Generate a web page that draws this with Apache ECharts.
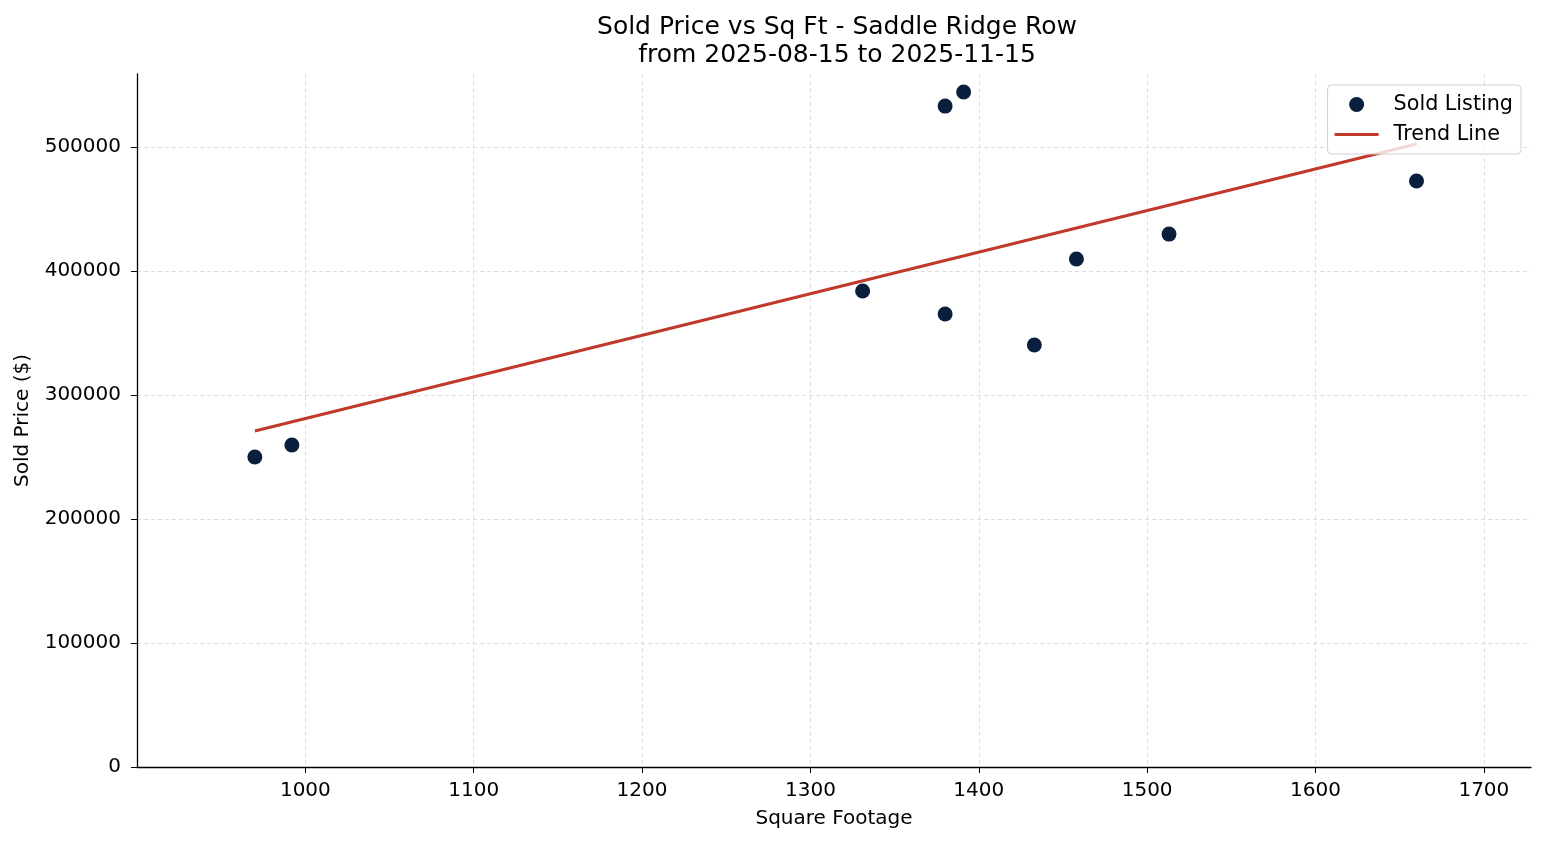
<!DOCTYPE html>
<html>
<head>
<meta charset="utf-8">
<script src="https://cdn.jsdelivr.net/npm/echarts@6/dist/echarts.min.js"></script>
<style>
html,body{margin:0;padding:0;background:#fff;}
#chart{width:1547px;height:845px;}
</style>
</head>
<body>
<div id="chart"></div>
<script>
const titleLines = ["Sold Price vs Sq Ft - Saddle Ridge Row", "from 2025-08-15 to 2025-11-15"];
const sqft = [970, 992, 1331, 1380, 1391, 1380, 1433, 1458, 1513, 1660];
const soldPrice = [250000, 259700, 383900, 533000, 544400, 365300, 340300, 409700, 429800, 472600];
const trendSqft = [970, 1660];
const trendPrice = [271000, 502400];

const font = "DejaVu Sans";
const plain = v => String(Math.round(v));
const chart = echarts.init(document.getElementById('chart'));
chart.setOption({
  animation: false,
  backgroundColor: '#fff',
  textStyle: { fontFamily: font },
  title: {
    text: titleLines.join('\n'),
    left: 832, top: 8, textAlign: 'center',
    textStyle: { fontFamily: font, fontSize: 25, fontWeight: 'normal', color: '#000', lineHeight: 28 }
  },
  legend: {
    right: 26, top: 85,
    orient: 'vertical',
    itemGap: 9,
    backgroundColor: 'rgba(255,255,255,0.8)',
    borderColor: '#d0d0d0', borderWidth: 1, borderRadius: 4,
    padding: [9, 8, 9, 7],
    textStyle: { fontFamily: font, fontSize: 20.7, color: '#000', padding: [0, 0, 0, 10] },
    itemWidth: 44, itemHeight: 15,
    data: [
      { name: 'Sold Listing', icon: 'circle' },
      { name: 'Trend Line', icon: 'path://M0,0 L44,0 L44,3 L0,3 Z' }
    ]
  },
  grid: { left: 137, right: 16, top: 74, bottom: 78, containLabel: false },
  xAxis: {
    type: 'value', min: 900, max: 1728, interval: 100,
    name: 'Square Footage', nameLocation: 'middle', nameGap: 42,
    nameTextStyle: { fontFamily: font, fontSize: 20, color: '#000' },
    axisLine: { show: true, onZero: false, lineStyle: { color: '#000', width: 1.3 } },
    axisTick: { show: true, length: 6, lineStyle: { color: '#000' } },
    axisLabel: { fontFamily: font, fontSize: 20, color: '#000', margin: 14, showMinLabel: false, showMaxLabel: false, formatter: plain },
    splitLine: { show: true, showMinLine: false, showMaxLine: false, lineStyle: { color: '#d6d6d6', type: [4, 3], width: 0.8 } }
  },
  yAxis: {
    type: 'value', min: 0, max: 558900, interval: 100000,
    name: 'Sold Price ($)', nameLocation: 'middle', nameGap: 104, nameRotate: 90,
    nameTextStyle: { fontFamily: font, fontSize: 20, color: '#000' },
    axisLine: { show: true, lineStyle: { color: '#000', width: 1.3 } },
    axisTick: { show: true, length: 6, lineStyle: { color: '#000' } },
    axisLabel: { fontFamily: font, fontSize: 20, color: '#000', margin: 16, showMaxLabel: false, formatter: plain },
    splitLine: { show: true, showMinLine: false, showMaxLine: false, lineStyle: { color: '#d6d6d6', type: [4, 3], width: 0.8 } }
  },
  series: [
    {
      name: 'Sold Listing', type: 'scatter', symbolSize: 15,
      itemStyle: { color: '#0a1f3d', opacity: 1 },
      data: sqft.map((x, i) => [x, soldPrice[i]]),
      z: 3
    },
    {
      name: 'Trend Line', type: 'line', symbol: 'none',
      lineStyle: { color: '#c0392b', width: 3 },
      itemStyle: { color: '#c0392b' },
      data: trendSqft.map((x, i) => [x, trendPrice[i]]),
      z: 2
    }
  ]
});
</script>
</body>
</html>
